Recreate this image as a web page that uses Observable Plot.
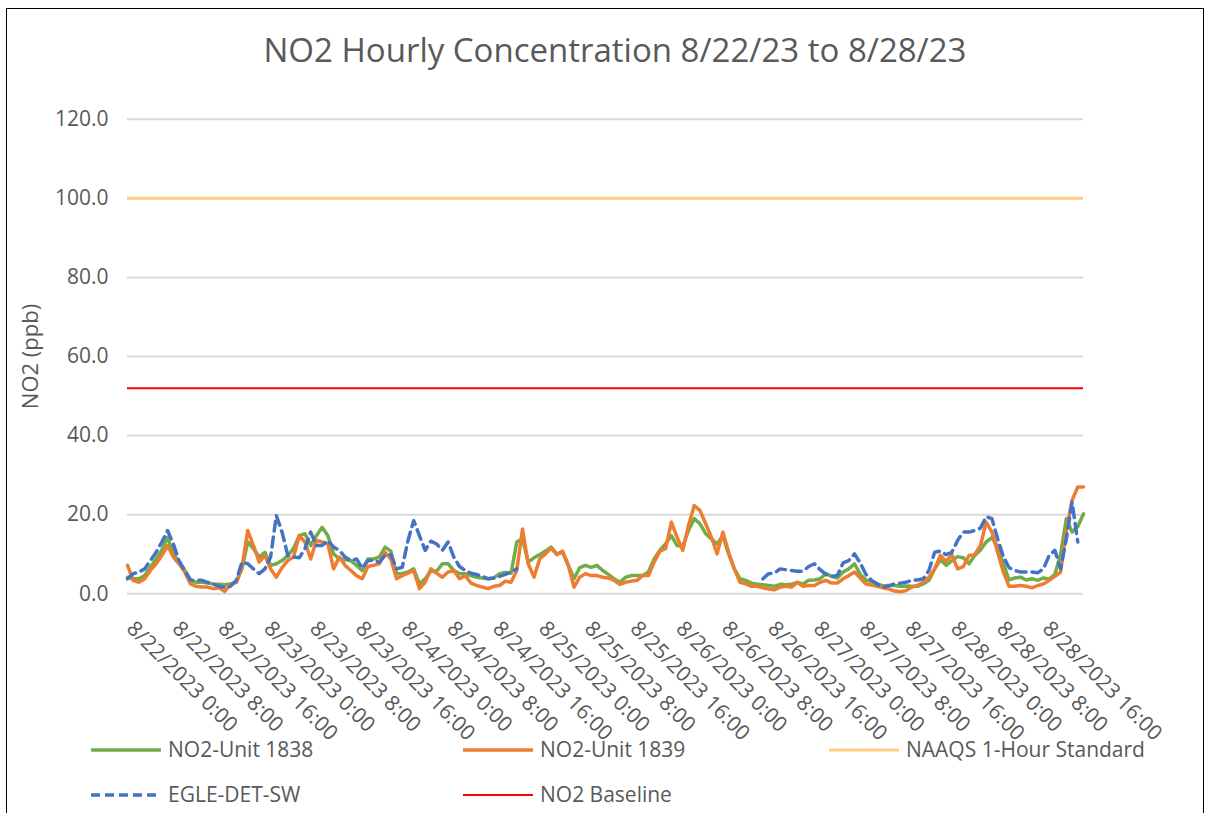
<!DOCTYPE html>
<html>
<head>
<meta charset="utf-8">
<script src="https://cdn.jsdelivr.net/npm/d3@7"></script>
<script src="https://cdn.jsdelivr.net/npm/@observablehq/plot@0.6"></script>
<style>
  html, body { margin: 0; padding: 0; background: #fff; }
  body { width: 1212px; height: 813px; position: relative; overflow: hidden; font-family: "Open Sans", sans-serif; color: #595959; }
  #frame { position: absolute; left: 6px; top: 8px; width: 1198px; height: 820px; border: 1px solid #000; box-sizing: border-box; }
  #title { position: absolute; left: 9px; width: 1212px; top: 28px; text-align: center; font-size: 33px; line-height: 44px; color: #595959; white-space: nowrap; }
  #chart { position: absolute; left: 0; top: 0; }
  .leg { position: absolute; font-size: 21px; line-height: 26px; white-space: nowrap; color: #595959; }
  .sw { position: absolute; width: 72px; height: 8px; overflow: visible; }
</style>
</head>
<body>
<div id="frame"></div>
<div id="chart"></div>
<div id="title">NO2 Hourly Concentration 8/22/23 to 8/28/23</div>
<div id="legend"></div>
<script>
// Tick labels every 8 hours (hourly categories start at 8/22/2023 0:00)
const tickLabels = [
  "8/22/2023 0:00","8/22/2023 8:00","8/22/2023 16:00",
  "8/23/2023 0:00","8/23/2023 8:00","8/23/2023 16:00",
  "8/24/2023 0:00","8/24/2023 8:00","8/24/2023 16:00",
  "8/25/2023 0:00","8/25/2023 8:00","8/25/2023 16:00",
  "8/26/2023 0:00","8/26/2023 8:00","8/26/2023 16:00",
  "8/27/2023 0:00","8/27/2023 8:00","8/27/2023 16:00",
  "8/28/2023 0:00","8/28/2023 8:00","8/28/2023 16:00"
];
const yTicks = [0, 20, 40, 60, 80, 100, 120];

// NO2-Unit 1838 (hourly, ppb)
const unit1838 = [
  4.2,3.8,3.8,4.6,6.7,8.8,11.0,14.3,10.1,8.0,5.9,3.4,2.9,2.9,2.7,2.5,2.4,2.3,2.5,2.9,6.3,13.1,11.4,9.3,10.5,7.2,7.6,8.4,9.7,11.4,14.7,15.2,12.2,14.7,16.8,14.7,10.1,8.8,8.6,8.4,7.2,5.9,
  8.8,8.8,9.3,11.8,10.8,5.1,5.1,5.5,6.3,2.5,3.8,5.7,5.7,7.6,7.6,5.9,5.1,5.1,4.6,4.2,4.0,3.8,4.0,5.1,5.4,5.2,13.1,13.9,8.0,9.1,9.9,10.8,11.8,10.1,10.5,7.2,3.8,6.6,7.2,6.7,7.2,5.9,
  4.9,3.8,2.9,4.2,4.6,4.6,4.6,5.5,8.8,11.0,12.6,14.7,12.2,12.0,16.0,19.0,17.7,15.2,13.9,12.6,14.7,10.1,6.3,3.8,3.4,2.7,2.4,2.3,2.1,1.9,2.4,2.3,2.4,2.9,2.5,3.4,3.5,3.8,5.1,4.4,4.0,5.5,
  6.3,7.6,4.9,3.5,3.1,2.5,2.0,2.1,2.1,1.9,2.0,1.9,1.9,2.5,3.4,6.3,8.6,7.2,8.4,9.4,9.1,7.6,9.7,11.1,13.1,14.2,12.0,7.6,3.5,4.0,4.2,3.5,3.8,3.4,4.0,3.7,4.9,10.0,19.0,15.6,17.0,20.2
];
// NO2-Unit 1839
const unit1839 = [
  7.2,3.4,2.9,3.8,5.9,7.6,9.7,12.2,9.3,7.6,5.5,2.5,1.9,1.7,1.7,1.3,1.5,0.6,2.5,2.9,6.7,16.0,12.2,8.0,9.7,6.3,4.2,6.6,8.4,9.3,14.7,13.1,8.8,13.5,13.1,12.6,6.3,9.3,7.2,5.9,4.6,3.8,
  6.9,7.2,7.6,10.5,8.8,3.8,4.6,5.2,5.9,1.3,2.9,6.3,5.2,4.2,5.5,5.9,3.8,4.6,2.7,2.1,1.7,1.3,1.9,2.1,3.2,2.9,5.9,16.4,7.6,4.2,8.8,10.1,11.5,9.9,10.8,7.2,1.7,4.2,5.1,4.6,4.6,4.2,
  4.0,3.4,2.4,2.9,3.2,3.4,4.6,4.6,8.0,10.8,11.4,18.1,14.3,11.0,17.3,22.3,21.1,17.7,14.3,10.1,15.6,10.5,6.3,2.9,2.5,1.9,1.9,1.5,1.2,1.0,1.7,1.9,1.7,2.9,1.9,2.1,2.1,2.9,3.4,2.7,2.7,3.8,
  4.6,5.5,4.0,2.5,2.2,1.9,1.5,1.2,0.7,0.5,0.8,1.7,2.1,2.9,4.2,6.3,9.7,8.2,9.9,6.3,6.9,9.7,9.9,12.2,18.1,15.6,10.5,5.5,1.9,1.9,2.1,1.9,1.5,2.1,2.5,3.4,4.4,5.5,16.0,23.6,27.0,27.0
];
// EGLE-DET-SW (null = missing hour)
const egleDetSw = [
  3.8,5.1,5.5,6.3,8.4,10.5,13.1,16.0,12.6,8.4,5.9,3.5,3.4,3.4,2.9,2.5,1.9,1.7,1.9,3.4,8.0,7.6,6.3,5.1,6.3,9.3,19.8,15.6,9.7,9.3,9.1,11.4,15.6,12.2,12.2,13.5,11.8,11.0,9.3,8.4,8.8,6.5,
  8.4,8.4,8.0,9.7,9.9,6.3,6.7,13.5,18.5,14.7,11.0,13.3,12.6,11.0,13.1,9.3,6.9,5.9,5.2,4.9,4.4,3.8,4.0,4.4,4.9,5.5,6.3,
  null,null,null,null,null,null,null,null,null,null,null,null,null,null,null,
  null,null,null,null,null,null,null,null,null,null,null,null,null,null,null,null,null,null,null,null,null,null,null,null,null,null,null,
  3.8,5.1,5.2,6.3,6.1,5.9,5.7,5.7,6.9,7.6,6.1,4.9,4.4,4.6,7.8,
  8.4,10.1,7.8,4.9,3.4,2.4,1.7,2.0,2.5,2.7,2.9,3.4,3.5,3.8,5.9,10.5,10.8,9.9,10.5,13.5,15.6,15.6,16.0,16.6,19.5,19.0,13.9,9.4,6.6,5.9,5.5,5.5,5.5,5.3,6.3,9.7,11.0,6.3,13.9,23.2,13.1,null
];
const naaqsStandard = 100;
const no2Baseline = 52;

const seriesNames = ["NO2-Unit 1838", "NO2-Unit 1839", "NAAQS 1-Hour Standard", "EGLE-DET-SW", "NO2 Baseline"];
const seriesColors = ["#70ad47", "#ed7d31", "#ffcc80", "#4472c4", "#ff0000"];
const seriesWidths = [3.5, 3.5, 3, 3.5, 2];
const seriesDash = [null, null, null, "10,6", null];

const n = unit1838.length;
const tickIdx = tickLabels.map((_, i) => i * 8);

const H = 745;
const yZero = 593.3, yTop = 118.7;

const chart = Plot.plot({
  width: 1212,
  height: H,
  marginLeft: 127,
  marginRight: 129,
  marginTop: yTop,
  marginBottom: H - yZero,
  style: { fontFamily: "Open Sans, sans-serif", fontSize: "20px", color: "#595959", background: "transparent", overflow: "visible" },
  x: { domain: [0, n - 1], axis: null },
  y: { domain: [0, 120], axis: null },
  marks: [
    Plot.ruleY(yTicks, { stroke: "#d9d9d9", strokeWidth: 2 }),
    Plot.text(yTicks, { y: d => d, text: d => d3.format(".1f")(d), frameAnchor: "left", textAnchor: "end", dx: -19, fontSize: 21, fill: "#595959" }),
    Plot.text(tickIdx, { x: d => d, text: (d, i) => tickLabels[i], frameAnchor: "bottom", rotate: 45, textAnchor: "start", lineAnchor: "bottom", dy: 36, dx: -2, fontSize: 21, fill: "#595959" }),
    Plot.text(["NO2 (ppb)"], { frameAnchor: "left", rotate: -90, textAnchor: "middle", lineAnchor: "middle", dx: -97, fontSize: 22, fill: "#595959" }),
    Plot.line(unit1838, { x: (d, i) => i, y: d => d, stroke: seriesColors[0], strokeWidth: seriesWidths[0], strokeLinejoin: "round" }),
    Plot.line(unit1839, { x: (d, i) => i, y: d => d, stroke: seriesColors[1], strokeWidth: seriesWidths[1], strokeLinejoin: "round" }),
    Plot.ruleY([naaqsStandard], { stroke: seriesColors[2], strokeWidth: seriesWidths[2] }),
    Plot.line(egleDetSw, { x: (d, i) => i, y: d => d, stroke: seriesColors[3], strokeWidth: seriesWidths[3], strokeDasharray: seriesDash[3], strokeLinejoin: "round" }),
    Plot.ruleY([no2Baseline], { stroke: seriesColors[4], strokeWidth: seriesWidths[4] })
  ]
});
document.getElementById("chart").appendChild(chart);

// Legend (two rows, three columns)
const legendPos = [
  { x: 90, y: 750 }, { x: 462, y: 750 }, { x: 828, y: 750 },
  { x: 90, y: 795 }, { x: 462, y: 795 }
];
const legend = document.getElementById("legend");
const svgNS = "http://www.w3.org/2000/svg";
seriesNames.forEach((name, i) => {
  const p = legendPos[i];
  const sw = document.createElementNS(svgNS, "svg");
  sw.setAttribute("class", "sw");
  sw.setAttribute("width", 72);
  sw.setAttribute("height", 8);
  sw.style.left = p.x + "px";
  sw.style.top = (p.y - 4) + "px";
  const ln = document.createElementNS(svgNS, "line");
  ln.setAttribute("x1", 1); ln.setAttribute("x2", 71);
  ln.setAttribute("y1", 4); ln.setAttribute("y2", 4);
  ln.setAttribute("stroke", seriesColors[i]);
  ln.setAttribute("stroke-width", seriesWidths[i]);
  if (seriesDash[i]) ln.setAttribute("stroke-dasharray", "9,5");
  sw.appendChild(ln);
  legend.appendChild(sw);
  const t = document.createElement("div");
  t.className = "leg";
  t.style.left = (p.x + 78) + "px";
  t.style.top = (p.y - 14) + "px";
  t.textContent = name;
  legend.appendChild(t);
});
</script>
</body>
</html>
